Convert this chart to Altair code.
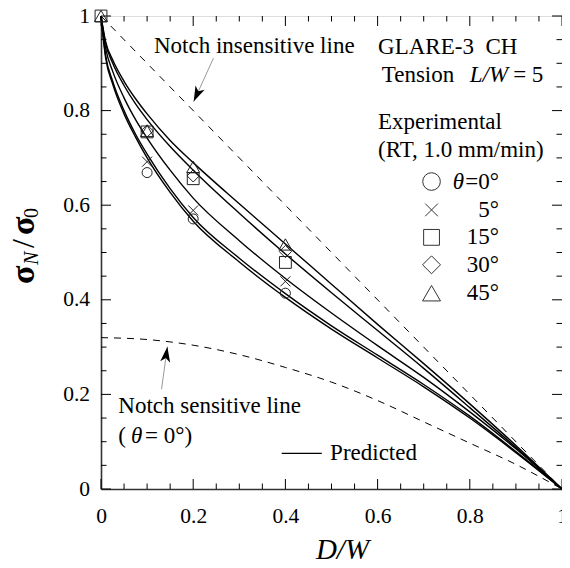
import altair as alt
import pandas as pd

# ---------------- data ----------------
angles = ["0", "5", "15", "30", "45"]

# predicted curves (sigma_N / sigma_0 vs D/W)
x_pred = [0, 0.01, 0.025, 0.05, 0.075, 0.1, 0.15, 0.2, 0.3, 0.4, 0.5, 0.6, 0.7, 0.8, 0.9, 1.0]
pred_0 = [1, 0.912, 0.857, 0.793, 0.744, 0.700, 0.627, 0.566, 0.480, 0.405, 0.338, 0.277, 0.216, 0.150, 0.077, 0]
pred_5 = [1, 0.917, 0.863, 0.800, 0.750, 0.708, 0.635, 0.574, 0.488, 0.413, 0.345, 0.283, 0.221, 0.154, 0.079, 0]
pred_15 = [1, 0.932, 0.884, 0.827, 0.781, 0.742, 0.674, 0.615, 0.525, 0.445, 0.372, 0.303, 0.236, 0.163, 0.085, 0]
pred_30 = [1, 0.942, 0.901, 0.853, 0.814, 0.781, 0.724, 0.674, 0.583, 0.497, 0.415, 0.335, 0.255, 0.172, 0.088, 0]
pred_45 = [1, 0.946, 0.908, 0.862, 0.825, 0.793, 0.737, 0.690, 0.603, 0.518, 0.433, 0.348, 0.265, 0.180, 0.092, 0]
pred = {"0": pred_0, "5": pred_5, "15": pred_15, "30": pred_30, "45": pred_45}

# experimental points
exp_x = {
    "0": [0.1, 0.2, 0.4],
    "5": [0.1, 0.2, 0.4],
    "15": [0, 0.1, 0.2, 0.4],
    "30": [0.1, 0.2, 0.4],
    "45": [0, 0.1, 0.2, 0.4],
}
exp_y = {
    "0": [0.669, 0.571, 0.414],
    "5": [0.692, 0.589, 0.439],
    "15": [1.0, 0.755, 0.656, 0.479],
    "30": [0.757, 0.662, 0.502],
    "45": [1.0, 0.757, 0.681, 0.517],
}

# notch insensitive / sensitive lines
insens_x = [0, 1]
insens_y = [1, 0]
sens_x = [0, 0.1, 0.2, 0.3, 0.4, 0.5, 0.6, 0.7, 0.8, 0.9, 1.0]
sens_y = [0.320, 0.316, 0.304, 0.284, 0.257, 0.226, 0.187, 0.142, 0.097, 0.052, 0.0]

# axis ticks
major_ticks = [0, 0.2, 0.4, 0.6, 0.8, 1.0]
minor_ticks = [0.05, 0.1, 0.15, 0.25, 0.3, 0.35, 0.45, 0.5, 0.55, 0.65, 0.7, 0.75, 0.85, 0.9, 0.95]

legend_labels = ["=0°", "5°", "15°", "30°", "45°"]

# ---------------- styles / layout ----------------
W, H = 461, 473
FONT = "Liberation Serif"
XPATH = "M-1,-1L1,1M-1,1L1,-1"
shape_of = {"0": "circle", "5": XPATH, "15": "square", "30": "diamond", "45": "triangle-up"}
size_plot = {"0": 100, "5": 100, "15": 140, "30": 150, "45": 170}
size_leg = {"0": 310, "5": 160, "15": 250, "30": 320, "45": 320}
leg_sym_x = 0.717
leg_lab_x = 0.863
leg_rows_y = [0.650, 0.590, 0.532, 0.474, 0.414]

xscale = alt.Scale(domain=[0, 1], nice=False, zero=False)
yscale = alt.Scale(domain=[0, 1], nice=False, zero=False)
xaxis = alt.Axis(values=major_ticks, format="~g", ticks=False, tickSize=0, grid=False,
                 labelFont=FONT, labelFontSize=21.5, labelBaseline="alphabetic",
                 labelPadding=33, labelFlush=False, labelOverlap=False, labelColor="black",
                 domainColor="#333", domainWidth=1.6,
                 title="D/W", titleFont=FONT, titleFontSize=29, titleFontStyle="italic",
                 titleFontWeight="normal", titleColor="black", titleX=241, titleY=69,
                 titleBaseline="alphabetic", titleAlign="center")
yaxis = alt.Axis(values=major_ticks, format="~g", ticks=False, tickSize=0, grid=False,
                 labelFont=FONT, labelFontSize=21.5, labelPadding=11.5, labelFlush=False,
                 labelOverlap=False, labelColor="black",
                 domainColor="#333", domainWidth=1.6, title=None)


def X(f):
    return alt.X(f, type="quantitative", scale=xscale, axis=xaxis)


def Y(f):
    return alt.Y(f, type="quantitative", scale=yscale, axis=yaxis)


# ---------------- tables ----------------
pred_df = pd.DataFrame(
    [{"x": x, "y": y, "a": a} for a in angles for x, y in zip(x_pred, pred[a])]
)
exp_df = pd.DataFrame(
    [{"x": x, "y": y, "a": a, "shape": shape_of[a], "size": size_plot[a]}
     for a in angles for x, y in zip(exp_x[a], exp_y[a])]
)
insens_df = pd.DataFrame({"x": insens_x, "y": insens_y})
sens_df = pd.DataFrame({"x": sens_x, "y": sens_y})
maj_df = pd.DataFrame({"v": major_ticks})
min_df = pd.DataFrame({"v": minor_ticks})

leg_df = pd.DataFrame({
    "x": [leg_sym_x] * len(angles),
    "y": leg_rows_y,
    "shape": [shape_of[a] for a in angles],
    "size": [size_leg[a] for a in angles],
})
leg_lab_df = pd.DataFrame({"x": [leg_lab_x] * len(angles), "y": leg_rows_y, "text": legend_labels})

# ---------------- layers ----------------
layers = []

# inward ticks on four sides
for df, ln in ((maj_df, 10), (min_df, 5.5)):
    layers.append(alt.Chart(df).mark_rule(color="black", strokeWidth=1).encode(
        x=X("v"), y=alt.value(H), y2=alt.value(H - ln)))
    layers.append(alt.Chart(df).mark_rule(color="black", strokeWidth=1).encode(
        x=X("v"), y=alt.value(0), y2=alt.value(ln)))
    layers.append(alt.Chart(df).mark_rule(color="black", strokeWidth=1).encode(
        y=Y("v"), x=alt.value(0), x2=alt.value(ln)))
    layers.append(alt.Chart(df).mark_rule(color="black", strokeWidth=1).encode(
        y=Y("v"), x=alt.value(W), x2=alt.value(W - ln)))

layers.append(alt.Chart(insens_df).mark_line(color="black", strokeWidth=1, strokeDash=[7, 7]).encode(
    x=X("x"), y=Y("y")))
layers.append(alt.Chart(sens_df).mark_line(color="black", strokeWidth=1, strokeDash=[7, 6],
                                           interpolate="monotone").encode(x=X("x"), y=Y("y")))
layers.append(alt.Chart(pred_df).mark_line(color="black", strokeWidth=1.4, interpolate="monotone").encode(
    x=X("x"), y=Y("y"), detail="a:N"))
layers.append(alt.Chart(exp_df).mark_point(filled=False, color="#222", strokeWidth=1, opacity=1).encode(
    x=X("x"), y=Y("y"), shape=alt.Shape("shape:N", scale=None), size=alt.Size("size:Q", scale=None)))

# legend
layers.append(alt.Chart(leg_df).mark_point(filled=False, color="#333", strokeWidth=1, opacity=1).encode(
    x=X("x"), y=Y("y"), shape=alt.Shape("shape:N", scale=None), size=alt.Size("size:Q", scale=None)))
layers.append(alt.Chart(leg_lab_df).mark_text(align="right", baseline="middle", font=FONT, fontSize=23,
                                              color="black").encode(x=X("x"), y=Y("y"), text="text:N"))

# annotation texts (data coordinates)
normal_txt = pd.DataFrame([
    {"x": 0.115, "y": 0.9224, "text": "Notch insensitive line"},
    {"x": 0.601, "y": 0.919, "text": "GLARE-3\u00a0\u00a0CH"},
    {"x": 0.609, "y": 0.8605, "text": "Tension"},
    {"x": 0.894, "y": 0.8605, "text": "= 5"},
    {"x": 0.601, "y": 0.7605, "text": "Experimental"},
    {"x": 0.601, "y": 0.7025, "text": "(RT, 1.0 mm/min)"},
    {"x": 0.0375, "y": 0.160, "text": "Notch sensitive line"},
    {"x": 0.0375, "y": 0.0966, "text": "("},
    {"x": 0.0954, "y": 0.0966, "text": "= 0°)"},
])
italic_txt = pd.DataFrame([
    {"x": 0.800, "y": 0.8605, "text": "L/W"},
    {"x": 0.065, "y": 0.0966, "text": "θ"},
])
layers.append(alt.Chart(normal_txt).mark_text(align="left", baseline="alphabetic", font=FONT,
                                              fontSize=23, color="black").encode(
    x=X("x"), y=Y("y"), text="text:N"))
layers.append(alt.Chart(italic_txt).mark_text(align="left", baseline="alphabetic", font=FONT,
                                              fontSize=23, fontStyle="italic", color="black").encode(
    x=X("x"), y=Y("y"), text="text:N"))
layers.append(alt.Chart(pd.DataFrame({"x": [0.763], "y": [leg_rows_y[0]], "text": ["θ"]})).mark_text(
    align="left", baseline="middle", font=FONT, fontSize=23, fontStyle="italic", color="black").encode(
    x=X("x"), y=Y("y"), text="text:N"))

# "Predicted" key
layers.append(alt.Chart(pd.DataFrame({"x": [0.392], "x2": [0.479], "y": [0.0755]})).mark_rule(
    color="black", strokeWidth=1.2).encode(x=X("x"), x2="x2", y=Y("y")))
layers.append(alt.Chart(pd.DataFrame({"x": [0.497], "y": [0.0755], "text": ["Predicted"]})).mark_text(
    align="left", baseline="middle", font=FONT, fontSize=23, color="black").encode(
    x=X("x"), y=Y("y"), text="text:N"))

# arrows
ARROW = "M0,0L0.55,1.7L0,1.25L-0.55,1.7Z"
arrows = [
    {"x0": 0.244, "y0": 0.911, "x1": 0.201, "y1": 0.819, "ang": 204.5},
    {"x0": 0.1313, "y0": 0.2108, "x1": 0.144, "y1": 0.3008, "ang": 8.1},
]
for a in arrows:
    layers.append(alt.Chart(pd.DataFrame({"x": [a["x0"]], "y": [a["y0"]], "x2": [a["x1"]], "y2": [a["y1"]]}))
                  .mark_rule(color="#999", strokeWidth=1).encode(x=X("x"), y=Y("y"), x2="x2", y2="y2"))
    layers.append(alt.Chart(pd.DataFrame({"x": [a["x1"]], "y": [a["y1"]]}))
                  .mark_point(shape=ARROW, filled=True, color="black", size=330, angle=a["ang"], opacity=1)
                  .encode(x=X("x"), y=Y("y")))

# y-axis title built from pieces: sigma_N / sigma_0
ytitle = [
    {"t": "σ", "x": -67.5, "y": 268, "s": 34, "w": "bold", "st": "normal"},
    {"t": "N", "x": -63.5, "y": 249, "s": 20, "w": "normal", "st": "italic"},
    {"t": "/", "x": -67.5, "y": 232, "s": 32, "w": "normal", "st": "normal"},
    {"t": "σ", "x": -67.5, "y": 219, "s": 34, "w": "bold", "st": "normal"},
    {"t": "0", "x": -63.5, "y": 202, "s": 20, "w": "normal", "st": "normal"},
]
for p in ytitle:
    layers.append(alt.Chart(pd.DataFrame({"text": [p["t"]]})).mark_text(
        align="left", baseline="alphabetic", angle=270, font=FONT, fontSize=p["s"],
        fontWeight=p["w"], fontStyle=p["st"], color="black").encode(
        x=alt.value(p["x"]), y=alt.value(p["y"]), text="text:N"))

chart = alt.layer(*layers).properties(
    width=W, height=H,
    autosize=alt.AutoSizeParams(type="none"),
    padding={"left": 93, "top": 8, "right": 0, "bottom": 71},
).configure_view(stroke="black", strokeWidth=1).configure(background="white")

chart.save("out.html", embed_options={"renderer": "svg", "actions": False})
